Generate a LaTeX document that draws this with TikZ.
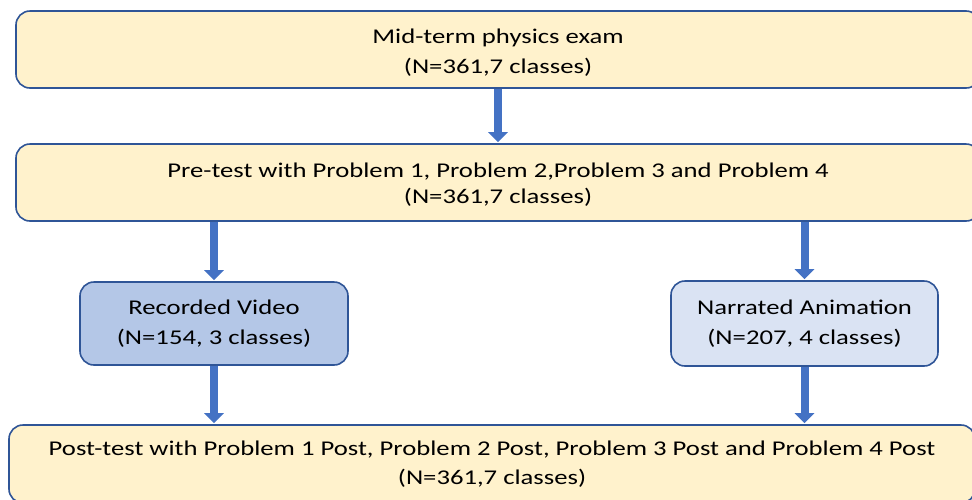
\documentclass[tikz,border=0pt]{standalone}
\usepackage{fontspec}
\setmainfont{Carlito}[FakeStretch=1.27]
\usetikzlibrary{arrows.meta}
\definecolor{boxline}{HTML}{2F5597}
\definecolor{yel}{HTML}{FFF2CC}
\definecolor{blu}{HTML}{B4C7E7}
\definecolor{lblu}{HTML}{DAE3F3}
\definecolor{arr}{HTML}{4472C4}
\tikzset{
  box/.style={draw=boxline, line width=1.6pt, rounded corners=14pt, align=center,
    font=\fontsize{21}{29.5}\selectfont, inner sep=0pt},
  txt/.style={align=center, font=\fontsize{21}{30}\selectfont, inner sep=0pt},
  flow/.style={draw=arr, line width=8pt, -{Triangle[width=19pt,length=10pt]}, shorten >=1pt}
}
\begin{document}
\begin{tikzpicture}[x=1pt,y=-1pt]
\useasboundingbox (0,0) rectangle (972,499);
\clip (0,0) rectangle (972,499);
\node[box, fill=yel, minimum width=964pt, minimum height=77pt] (exam) at (498,49.5) {};
\node[txt] (examtext) at ([yshift=-3.5pt]exam.center) {Mid-term physics exam\\ (N=361,7 classes)};
\node[box, fill=yel, minimum width=964pt, minimum height=77pt] (pre) at (498,182.5) {};
\node[txt, font=\fontsize{21}{26}\selectfont] (pretext) at ([yshift=-2.5pt]pre.center)
  {Pre-test with Problem 1, Problem 2,Problem 3 and Problem 4\\ (N=361,7 classes)};
\node[box, fill=blu, minimum width=268pt, minimum height=83pt] (video) at (214,323.5)
  {Recorded Video\\ (N=154, 3 classes)};
\node[box, fill=lblu, minimum width=267pt, minimum height=85pt] (anim) at (804.5,323.5)
  {Narrated Animation\\ (N=207, 4 classes)};
\node[box, fill=yel, minimum width=966pt, minimum height=78pt] (post) at (492,464)
  {Post-test with Problem 1 Post, Problem 2 Post, Problem 3 Post and Problem 4 Post\\ (N=361,7 classes)};
\draw[flow] (exam.south) -- (pre.north);
\draw[flow] (pre.south -| video.north) -- (video.north);
\draw[flow] (pre.south -| anim.north) -- (anim.north);
\draw[flow] (video.south) -- (post.north -| video.south);
\draw[flow] (anim.south) -- (post.north -| anim.south);
\end{tikzpicture}
\end{document}
